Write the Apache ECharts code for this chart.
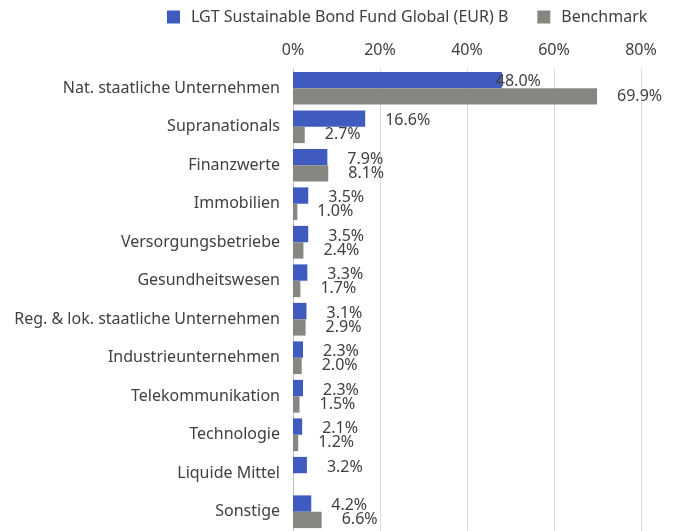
<!DOCTYPE html>
<html>
<head>
<meta charset="utf-8">
<script src="https://cdn.jsdelivr.net/npm/echarts@6/dist/echarts.min.js"></script>
<style>
html,body{margin:0;padding:0;background:#fff;}
#main{width:676px;height:531px;}
</style>
</head>
<body>
<div id="main"></div>
<script>
// sectors, top to bottom
var categories = ['Nat. staatliche Unternehmen', 'Supranationals', 'Finanzwerte', 'Immobilien',
    'Versorgungsbetriebe', 'Gesundheitswesen', 'Reg. & lok. staatliche Unternehmen',
    'Industrieunternehmen', 'Telekommunikation', 'Technologie', 'Liquide Mittel', 'Sonstige'];
var fundValues = [48.0, 16.6, 7.9, 3.5, 3.5, 3.3, 3.1, 2.3, 2.3, 2.1, 3.2, 4.2];
var benchValues = [69.9, 2.7, 8.1, 1.0, 2.4, 1.7, 2.9, 2.0, 1.5, 1.2, null, 6.6];
var xTicks = [0, 20, 40, 60, 80];

var fundName = 'LGT Sustainable Bond Fund Global (EUR) B';
var benchName = 'Benchmark';
var font = 'Noto Sans';
var textColor = '#404040';

function pct(p) {
    return p.value.toFixed(1) + '%';
}

// first fund label sits over the benchmark bar in the original
var fundData = fundValues.map(function (v, i) {
    if (i == 0) {
        return {value: v, label: {offset: [-26, 1]}};
    }
    return v;
});

var myChart = echarts.init(document.getElementById('main'));
myChart.setOption({
    animation: false,
    textStyle: {fontFamily: font},
    legend: {
        top: 4,
        left: 162,
        itemWidth: 13,
        itemHeight: 13,
        itemGap: 29,
        icon: 'rect',
        textStyle: {fontSize: 16, color: textColor, fontFamily: font, padding: [0, 0, 0, 6]},
        data: [fundName, benchName]
    },
    grid: {left: 293, right: 35, top: 69, bottom: 0},
    xAxis: {
        type: 'value',
        position: 'top',
        min: xTicks[0],
        max: xTicks[xTicks.length - 1],
        interval: 20,
        axisLine: {show: false},
        axisTick: {show: false},
        axisLabel: {formatter: '{value}%', fontSize: 16, color: textColor, margin: 11},
        splitLine: {lineStyle: {color: '#d9d9d9', width: 1}}
    },
    yAxis: {
        type: 'category',
        inverse: true,
        data: categories,
        axisLine: {lineStyle: {color: '#bfbfbf', width: 1}},
        axisTick: {show: false},
        axisLabel: {fontSize: 16, color: textColor, margin: 13}
    },
    series: [{
        name: fundName,
        type: 'bar',
        data: fundData,
        barGap: '0%',
        barCategoryGap: '15%',
        itemStyle: {color: '#3f5bc0'},
        label: {show: true, position: 'right', distance: 20, formatter: pct,
            fontSize: 16, color: textColor, offset: [0, 2]}
    }, {
        name: benchName,
        type: 'bar',
        data: benchValues,
        barGap: '0%',
        barCategoryGap: '15%',
        itemStyle: {color: '#878782'},
        label: {show: true, position: 'right', distance: 20, formatter: pct,
            fontSize: 16, color: textColor}
    }]
});
</script>
</body>
</html>
